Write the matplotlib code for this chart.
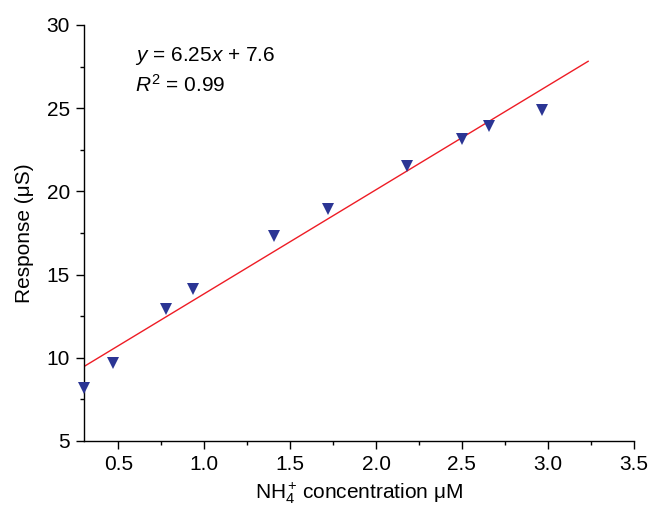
import numpy as np
import matplotlib
matplotlib.use("Agg")
import matplotlib.pyplot as plt
from matplotlib.ticker import MultipleLocator

plt.rcParams['font.family'] = ['Liberation Sans', 'DejaVu Sans']
plt.rcParams['mathtext.fontset'] = 'custom'
plt.rcParams['mathtext.rm'] = 'Liberation Sans'
plt.rcParams['mathtext.it'] = 'Liberation Sans:italic'

# Data
conc = [0.30, 0.47, 0.78, 0.935, 1.405, 1.72, 2.183, 2.50, 2.655, 2.968]
response = [8.2, 9.7, 12.93, 14.12, 17.3, 18.94, 21.53, 23.13, 23.93, 24.91]

# Linear fit as printed on the chart
slope = 6.25
intercept = 7.6
fit_range = [0.3, 3.235]

x_ticks = [0.5, 1.0, 1.5, 2.0, 2.5, 3.0, 3.5]
y_ticks = [5, 10, 15, 20, 25, 30]

fig = plt.figure(figsize=(6.49, 5.08), dpi=100)
ax = fig.add_axes([0.1294, 0.1319, 0.847, 0.8189])

fit_x = np.array(fit_range)
ax.plot(fit_x, slope * fit_x + intercept, color='#EE1C25', linewidth=1.0, zorder=2)
ax.plot(conc, response, linestyle='none', marker='v', markersize=9,
        color='#2B3594', markeredgewidth=0, zorder=3, clip_on=False)

ax.set_xlim(0.3, 3.5)
ax.set_ylim(5, 30)
ax.set_xticks(x_ticks)
ax.set_xticklabels([f"{v:.1f}" for v in x_ticks])
ax.set_yticks(y_ticks)
ax.xaxis.set_minor_locator(MultipleLocator(0.25))
ax.yaxis.set_minor_locator(MultipleLocator(2.5))

for side in ['top', 'right']:
    ax.spines[side].set_visible(False)
for side in ['left', 'bottom']:
    ax.spines[side].set_linewidth(1.0)

ax.tick_params(which='major', direction='out', length=6, width=1.0, labelsize=15, pad=4)
ax.tick_params(which='minor', direction='out', length=3, width=1.0)

ax.set_xlabel(r'NH$_4^+\!$ concentration μM', fontsize=15, labelpad=5)
ax.set_ylabel('Response (μS)', fontsize=15, labelpad=9)

ax.text(0.595, 28.15, '$y$ = 6.25$x$ + 7.6', fontsize=15, va='center')
ax.text(0.595, 26.4, '$R^{2}$ = 0.99', fontsize=15, va='center')

fig.savefig('out.png', dpi=100)
